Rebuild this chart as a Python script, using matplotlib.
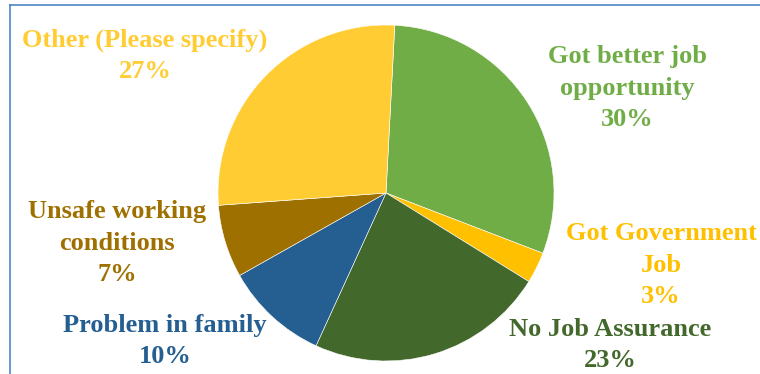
import matplotlib.pyplot as plt
from matplotlib.lines import Line2D

labels = ["Got better job\nopportunity", "Got Government\nJob", "No Job Assurance",
          "Problem in family", "Unsafe working\nconditions", "Other (Please specify)"]
shares = [30, 3, 23, 10, 7, 27]
colors = ["#70AD47", "#FFC000", "#43682B", "#255E91", "#9E7000", "#FFCD33"]

# label centres in figure pixels (x from left, y from top)
label_pos = [(627, 88), (661, 265), (610, 345), (165, 341), (117, 243), (145, 56)]

W, H = 760, 374
fig = plt.figure(figsize=(W / 100, H / 100), dpi=100)

cx, cy, r = 386, 193, 168
ax = fig.add_axes([(cx - r) / W, (H - cy - r) / H, 2 * r / W, 2 * r / H])
ax.pie(shares, colors=colors, startangle=87, counterclock=False, radius=1,
       wedgeprops=dict(edgecolor="white", linewidth=0.4))
ax.set_xlim(-1, 1)
ax.set_ylim(-1, 1)
ax.set_aspect("equal")
ax.axis("off")

for lab, pct, col, (x, y) in zip(labels, shares, colors, label_pos):
    fig.text(x / W, 1 - y / H, f"{lab}\n{pct}%", color=col, ha="center", va="center",
             fontsize=19, fontweight="bold", family="Liberation Serif", linespacing=1.47)

# chart border (left and top edges)
frame = "#4A86C5"
fig.add_artist(Line2D([10 / W, 10 / W], [0, 1 - 5 / H], color=frame, lw=1.2))
fig.add_artist(Line2D([10 / W, 1], [1 - 5 / H, 1 - 5 / H], color=frame, lw=1.2))

fig.savefig("out.png", dpi=100)
